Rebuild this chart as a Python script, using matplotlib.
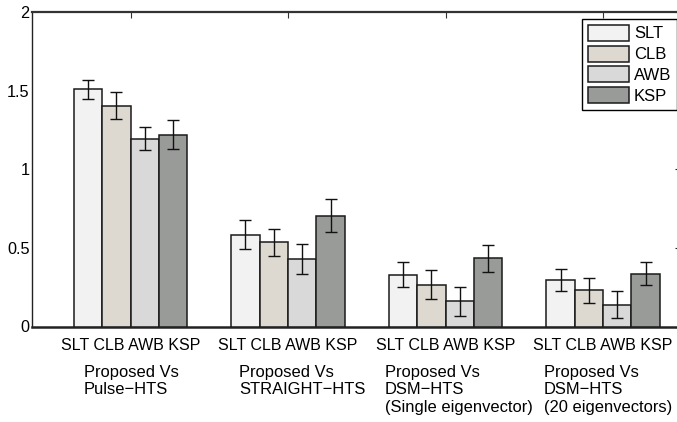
import matplotlib
matplotlib.use("Agg")
import matplotlib.pyplot as plt
import numpy as np

plt.rcParams['font.family'] = ['Liberation Sans', 'DejaVu Sans']

# mean scores and error half-widths, one list per method, one entry per comparison
methods = ['SLT', 'CLB', 'AWB', 'KSP']
comparisons = [
    'Proposed Vs\nPulse\u2212HTS',
    'Proposed Vs\nSTRAIGHT\u2212HTS',
    'Proposed Vs\nDSM\u2212HTS\n(Single eigenvector)',
    'Proposed Vs\nDSM\u2212HTS\n(20 eigenvectors)',
]
slt = [1.51, 0.585, 0.33, 0.293]
clb = [1.405, 0.535, 0.265, 0.23]
awb = [1.195, 0.43, 0.16, 0.14]
ksp = [1.222, 0.706, 0.435, 0.335]
slt_err = [0.06, 0.09, 0.08, 0.07]
clb_err = [0.085, 0.087, 0.093, 0.08]
awb_err = [0.072, 0.095, 0.09, 0.083]
ksp_err = [0.09, 0.105, 0.085, 0.073]

yticks = [0, 0.5, 1, 1.5, 2]
ytick_labels = ['0', '0.5', '1', '1.5', '2']

colors = ['#f2f2f2', '#ddd9d1', '#d9d9d9', '#999b99']

fig = plt.figure(figsize=(6.77, 4.22), dpi=100)
ax = fig.add_axes([32.3 / 677, 1 - 326.5 / 422, (678.5 - 32.3) / 677, (326.5 - 12.3) / 422])

x = np.arange(1, len(comparisons) + 1)
width = 0.18
series = [slt, clb, awb, ksp]
errs = [slt_err, clb_err, awb_err, ksp_err]
for i, (name, vals, err, c) in enumerate(zip(methods, series, errs, colors)):
    pos = x + (i - 1.5) * width
    ax.bar(pos, vals, width, color=c, edgecolor='#1a1a1a', linewidth=1.1,
           label=name, zorder=3)
    ax.errorbar(pos, vals, yerr=err, fmt='none', ecolor='#111111',
                elinewidth=1, capsize=4, capthick=1, zorder=4)

ax.set_xlim(0.3765, 4.479)
ax.set_ylim(0, 2)

ax.set_yticks(yticks)
ax.set_yticklabels(ytick_labels)
ax.tick_params(axis='y', left=False, right=True, direction='in', length=3,
               width=0.8, labelsize=11.7, pad=2, colors='#222222')
ax.tick_params(axis='y', labelcolor='black')

ax.set_xticks(x)
ax.set_xticklabels([' '.join(methods)] * len(comparisons))
ax.tick_params(axis='x', top=True, bottom=False, direction='in', length=4,
               width=0.8, labelsize=11.5, pad=8, colors='#333333')
ax.tick_params(axis='x', labelcolor='black')

for side in ['left', 'top', 'bottom']:
    ax.spines[side].set_color('#222222')
ax.spines['left'].set_linewidth(1.0)
ax.spines['top'].set_linewidth(1.6)
ax.spines['top'].set_color('#333333')
ax.spines['bottom'].set_linewidth(1.8)
ax.spines['bottom'].set_zorder(1)
ax.spines['right'].set_visible(False)

# group captions, left aligned below the method names
caption_x = [0.705, 1.689, 2.613, 3.625]
for cx, label in zip(caption_x, comparisons):
    ax.annotate(label, xy=(cx, 0), xycoords=('data', 'axes fraction'),
                xytext=(0, -27.5), textcoords='offset points',
                ha='left', va='top', fontsize=11.9, linespacing=1.22)

leg = ax.legend(loc='upper right', bbox_to_anchor=(677 / 677, 1 - 19 / 422),
                bbox_transform=fig.transFigure, borderaxespad=0,
                fontsize=12, frameon=True, fancybox=False, framealpha=1,
                edgecolor='black', handlelength=2.45, handleheight=1.1,
                labelspacing=0.25, handletextpad=0.3, borderpad=0.35)
leg.get_frame().set_linewidth(1.0)

fig.savefig('out.png', dpi=100)
